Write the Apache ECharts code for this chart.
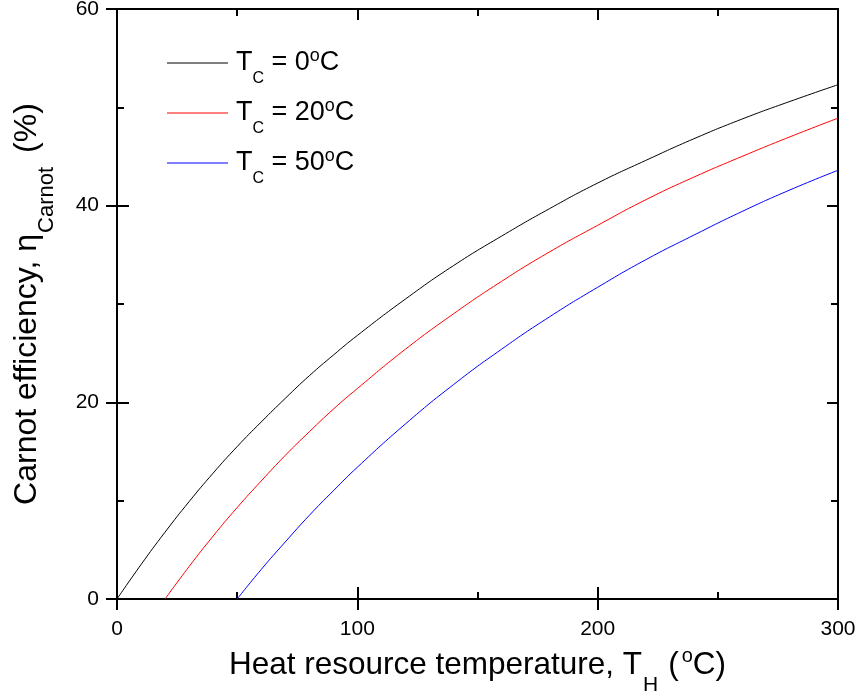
<!DOCTYPE html>
<html>
<head>
<meta charset="utf-8">
<script src="https://cdn.jsdelivr.net/npm/echarts@6/dist/echarts.min.js"></script>
<style>html,body{margin:0;padding:0;background:#fff}#c{width:861px;height:693px}</style>
</head>
<body>
<div id="c"></div>
<script>
// Data
var thTc0 = [0,10,20,30,40,50,60,70,80,90,100,120,140,160,180,200,220,240,260,280,300];
var effTc0 = [0,3.5,6.8,9.9,12.8,15.5,18.0,20.4,22.7,24.8,26.8,30.5,33.9,36.9,39.7,42.3,44.6,46.8,48.8,50.6,52.3];
var thTc20 = [20,30,40,50,60,70,80,90,100,120,140,160,180,200,220,240,260,280,300];
var effTc20 = [0,3.3,6.4,9.3,12.0,14.6,17.0,19.3,21.4,25.4,29.0,32.3,35.3,38.0,40.6,42.9,45.0,47.0,48.9];
var thTc50 = [50,60,70,80,90,100,120,140,160,180,200,220,240,260,280,300];
var effTc50 = [0,3.0,5.8,8.5,11.0,13.4,17.8,21.8,25.4,28.7,31.7,34.5,37.0,39.4,41.6,43.6];
var seriesNames = ['Tc0','Tc20','Tc50'];
var legendLabels = ['0','20','50'];
var colors = ['#000000','#ff0000','#0000ff'];

function pairs(xs, ys){ return xs.map(function(x,i){ return [x, ys[i]]; }); }

var FONT = 'Liberation Sans, Arial, sans-serif';
var chart = echarts.init(document.getElementById('c'), null, {renderer:'canvas'});

var black = '#000';
function axisBase(extra){
  var o = {
    type:'value', splitLine:{show:false},
    axisLine:{show:true, onZero:false, lineStyle:{color:black, width:2}},
    axisLabel:{show:false},
    axisTick:{show:true, inside:true, length:11, lineStyle:{color:black, width:2}},
    minorTick:{show:true, splitNumber:2, length:7, lineStyle:{color:black, width:2}}
  };
  for (var k in extra) o[k] = extra[k];
  return o;
}

var richX = {
  m:{fontSize:31.5, fontFamily:FONT, color:black, lineHeight:40},
  s:{fontSize:21, fontFamily:FONT, color:black, verticalAlign:'top', lineHeight:40, padding:[30,10,0,1]},
  p:{fontSize:20, fontFamily:FONT, color:black, verticalAlign:'top', lineHeight:40, padding:[2,0,0,3]}
};
var richY = {
  m:{fontSize:32, fontFamily:FONT, color:black, lineHeight:40},
  s:{fontSize:22, fontFamily:FONT, color:black, verticalAlign:'top', lineHeight:40, padding:[29,14,0,1]}
};
var richLegend = {
  f:{fontSize:27, fontFamily:FONT, color:black, lineHeight:36, padding:[0,0,0,3]},
  m:{fontSize:27, fontFamily:FONT, color:black, lineHeight:36},
  s:{fontSize:16, fontFamily:FONT, color:black, verticalAlign:'top', lineHeight:36, padding:[26,0,0,0]},
  p:{fontSize:18, fontFamily:FONT, color:black, verticalAlign:'top', lineHeight:36, padding:[2,0,0,0]}
};

var option = {
  animation:false,
  backgroundColor:'#fff',
  grid:{left:117, right:23, top:9, bottom:94, containLabel:false, outerBoundsMode:'none'},
  legend:{
    orient:'vertical', left:167, top:45, padding:0, itemWidth:61, itemHeight:14, itemGap:8,
    icon:'path://M0,0 L61,0 L61,1 L0,1 Z',
    data: seriesNames.map(function(n,i){ return {name:n, itemStyle:{color:colors[i], borderWidth:0}}; }),
    formatter:function(n){ var i = seriesNames.indexOf(n); return '{f|T}{s|C}{m| = '+legendLabels[i]+'}{p|o}{m|C}'; },
    textStyle:{rich:richLegend, fontFamily:FONT}
  },
  xAxis:[
    axisBase({position:'bottom', min:0, max:300, interval:100,
      axisTick:{show:true, inside:false, length:11, lineStyle:{color:black, width:2}},
      minorTick:{show:false},
      axisLabel:{show:true, fontSize:21, fontFamily:FONT, color:black, margin:20},
      name:'{m|Heat resource temperature, T}{s|H}{m|(}{p|o}{m|C)}', nameLocation:'middle', nameGap:41,
      nameTextStyle:{rich:richX}
    }),
    axisBase({position:'bottom', min:0, max:300, interval:100, axisTick:{show:true, inside:true, length:12, lineStyle:{color:black,width:2}}}),
    axisBase({position:'top', min:0, max:300, interval:100})
  ],
  yAxis:[
    axisBase({position:'left', min:0, max:60, interval:20,
      axisTick:{show:true, inside:false, length:11, lineStyle:{color:black, width:2}},
      minorTick:{show:false},
      axisLabel:{show:true, fontSize:21, fontFamily:FONT, color:black, margin:18},
      name:'{m|Carnot efficiency, η}{s|Carnot}{m|(%)}', nameLocation:'middle', nameGap:70, nameRotate:90,
      nameTextStyle:{rich:richY}
    }),
    axisBase({position:'left', min:0, max:60, interval:20, axisTick:{show:true, inside:true, length:12, lineStyle:{color:black,width:2}}}),
    axisBase({position:'right', min:0, max:60, interval:20})
  ],
  series:[
    {name:seriesNames[0], type:'line', data:pairs(thTc0, effTc0), smooth:true, symbol:'none', lineStyle:{color:colors[0], width:1}, itemStyle:{color:colors[0]}},
    {name:seriesNames[1], type:'line', data:pairs(thTc20, effTc20), smooth:true, symbol:'none', lineStyle:{color:colors[1], width:1}, itemStyle:{color:colors[1]}},
    {name:seriesNames[2], type:'line', data:pairs(thTc50, effTc50), smooth:true, symbol:'none', lineStyle:{color:colors[2], width:1}, itemStyle:{color:colors[2]}}
  ]
};
chart.setOption(option);
</script>
</body>
</html>
